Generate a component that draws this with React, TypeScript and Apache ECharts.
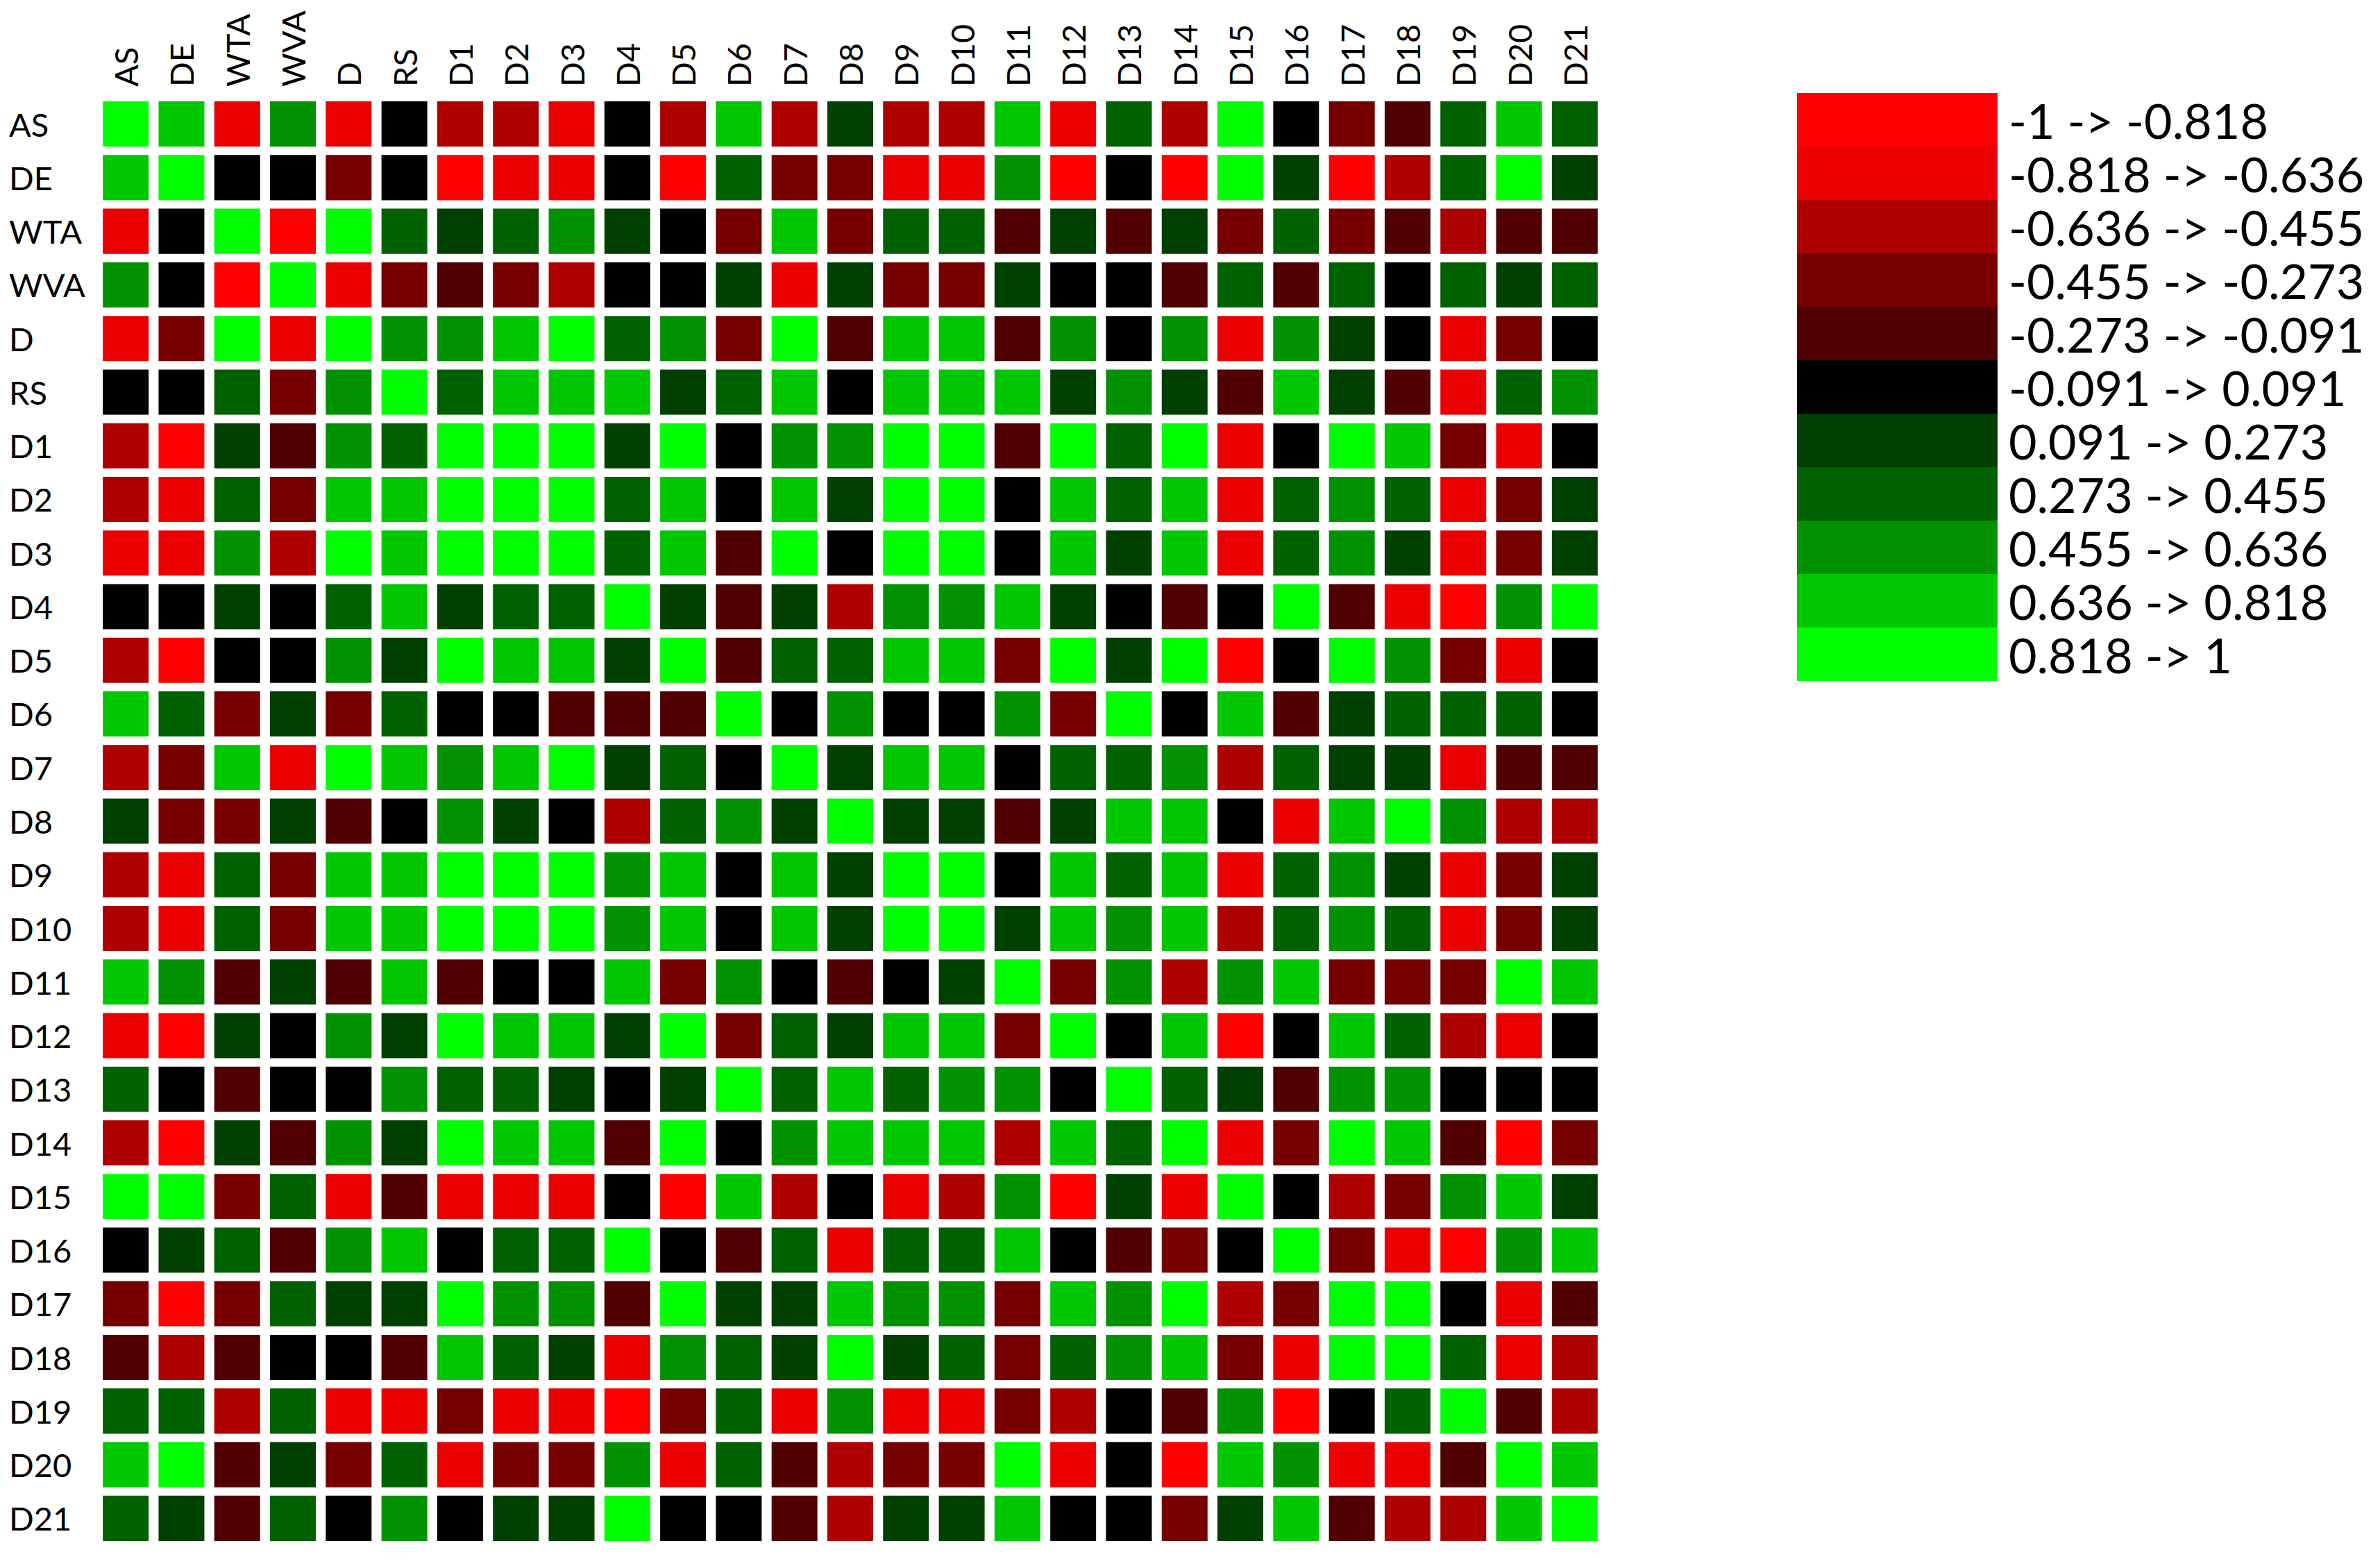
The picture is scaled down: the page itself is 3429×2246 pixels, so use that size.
import React, { useEffect, useRef } from "react";
import * as echarts from "echarts";

const variables = [
  "AS", "DE", "WTA", "WVA", "D", "RS", "D1", "D2", "D3", "D4", "D5", "D6", "D7",
  "D8", "D9", "D10", "D11", "D12", "D13", "D14", "D15", "D16", "D17", "D18", "D19", "D20", "D21",
];

// correlation matrix (rows and columns in the order of `variables`)
const rowAS = [1, 0.73, -0.73, 0.55, -0.73, 0, -0.55, -0.55, -0.73, 0, -0.55, 0.73, -0.55, 0.18, -0.55, -0.55, 0.73, -0.73, 0.36, -0.55, 0.91, 0, -0.36, -0.18, 0.36, 0.73, 0.36];
const rowDE = [0.73, 1, 0, 0, -0.36, 0, -0.91, -0.73, -0.73, 0, -0.91, 0.36, -0.36, -0.36, -0.73, -0.73, 0.55, -0.91, 0, -0.91, 0.91, 0.18, -0.91, -0.55, 0.36, 0.91, 0.18];
const rowWTA = [-0.73, 0, 1, -0.91, 0.91, 0.36, 0.18, 0.36, 0.55, 0.18, 0, -0.36, 0.73, -0.36, 0.36, 0.36, -0.18, 0.18, -0.18, 0.18, -0.36, 0.36, -0.36, -0.18, -0.55, -0.18, -0.18];
const rowWVA = [0.55, 0, -0.91, 1, -0.73, -0.36, -0.18, -0.36, -0.55, 0, 0, 0.18, -0.73, 0.18, -0.36, -0.36, 0.18, 0, 0, -0.18, 0.36, -0.18, 0.36, 0, 0.36, 0.18, 0.36];
const rowD = [-0.73, -0.36, 0.91, -0.73, 1, 0.55, 0.55, 0.73, 0.91, 0.36, 0.55, -0.36, 0.91, -0.18, 0.73, 0.73, -0.18, 0.55, 0, 0.55, -0.73, 0.55, 0.18, 0, -0.73, -0.36, 0];
const rowRS = [0, 0, 0.36, -0.36, 0.55, 1, 0.36, 0.73, 0.73, 0.73, 0.18, 0.36, 0.73, 0, 0.73, 0.73, 0.73, 0.18, 0.55, 0.18, -0.18, 0.73, 0.18, -0.18, -0.73, 0.36, 0.55];
const rowD1 = [-0.55, -0.91, 0.18, -0.18, 0.55, 0.36, 1, 0.91, 0.91, 0.18, 0.91, 0, 0.55, 0.55, 0.91, 0.91, -0.18, 0.91, 0.36, 0.91, -0.73, 0, 0.91, 0.73, -0.36, -0.73, 0];
const rowD2 = [-0.55, -0.73, 0.36, -0.36, 0.73, 0.73, 0.91, 1, 0.91, 0.36, 0.73, 0, 0.73, 0.18, 0.91, 0.91, 0, 0.73, 0.36, 0.73, -0.73, 0.36, 0.55, 0.36, -0.73, -0.36, 0.18];
const rowD3 = [-0.73, -0.73, 0.55, -0.55, 0.91, 0.73, 0.91, 0.91, 1, 0.36, 0.73, -0.18, 0.91, 0, 0.91, 0.91, 0, 0.73, 0.18, 0.73, -0.73, 0.36, 0.55, 0.18, -0.73, -0.36, 0.18];
const rowD4 = [0, 0, 0.18, 0, 0.36, 0.73, 0.18, 0.36, 0.36, 1, 0.18, -0.18, 0.18, -0.55, 0.55, 0.55, 0.73, 0.18, 0, -0.18, 0, 0.91, -0.18, -0.73, -0.91, 0.55, 0.91];
const rowD5 = [-0.55, -0.91, 0, 0, 0.55, 0.18, 0.91, 0.73, 0.73, 0.18, 1, -0.18, 0.36, 0.36, 0.73, 0.73, -0.36, 0.91, 0.18, 0.91, -0.91, 0, 0.91, 0.55, -0.36, -0.73, 0];
const rowD6 = [0.73, 0.36, -0.36, 0.18, -0.36, 0.36, 0, 0, -0.18, -0.18, -0.18, 1, 0, 0.55, 0, 0, 0.55, -0.36, 0.91, 0, 0.73, -0.18, 0.18, 0.36, 0.36, 0.36, 0];
const rowD7 = [-0.55, -0.36, 0.73, -0.73, 0.91, 0.73, 0.55, 0.73, 0.91, 0.18, 0.36, 0, 1, 0.18, 0.73, 0.73, 0, 0.36, 0.36, 0.55, -0.55, 0.36, 0.18, 0.18, -0.73, -0.18, -0.18];
const rowD8 = [0.18, -0.36, -0.36, 0.18, -0.18, 0, 0.55, 0.18, 0, -0.55, 0.36, 0.55, 0.18, 1, 0.18, 0.18, -0.18, 0.18, 0.73, 0.73, 0, -0.73, 0.73, 0.91, 0.55, -0.55, -0.55];
const rowD9 = [-0.55, -0.73, 0.36, -0.36, 0.73, 0.73, 0.91, 0.91, 0.91, 0.55, 0.73, 0, 0.73, 0.18, 1, 0.91, 0, 0.73, 0.36, 0.73, -0.73, 0.36, 0.55, 0.18, -0.73, -0.36, 0.18];
const rowD10 = [-0.55, -0.73, 0.36, -0.36, 0.73, 0.73, 0.91, 0.91, 0.91, 0.55, 0.73, 0, 0.73, 0.18, 0.91, 1, 0.18, 0.73, 0.55, 0.73, -0.55, 0.36, 0.55, 0.36, -0.73, -0.36, 0.18];
const rowD11 = [0.73, 0.55, -0.18, 0.18, -0.18, 0.73, -0.18, 0, 0, 0.73, -0.36, 0.55, 0, -0.18, 0, 0.18, 1, -0.36, 0.55, -0.55, 0.55, 0.73, -0.36, -0.36, -0.36, 0.91, 0.73];
const rowD12 = [-0.73, -0.91, 0.18, 0, 0.55, 0.18, 0.91, 0.73, 0.73, 0.18, 0.91, -0.36, 0.36, 0.18, 0.73, 0.73, -0.36, 1, 0, 0.73, -0.91, 0, 0.73, 0.36, -0.55, -0.73, 0];
const rowD13 = [0.36, 0, -0.18, 0, 0, 0.55, 0.36, 0.36, 0.18, 0, 0.18, 0.91, 0.36, 0.73, 0.36, 0.55, 0.55, 0, 1, 0.36, 0.18, -0.18, 0.55, 0.55, 0, 0, 0];
const rowD14 = [-0.55, -0.91, 0.18, -0.18, 0.55, 0.18, 0.91, 0.73, 0.73, -0.18, 0.91, 0, 0.55, 0.73, 0.73, 0.73, -0.55, 0.73, 0.36, 1, -0.73, -0.36, 0.91, 0.73, -0.18, -0.91, -0.36];
const rowD15 = [0.91, 0.91, -0.36, 0.36, -0.73, -0.18, -0.73, -0.73, -0.73, 0, -0.91, 0.73, -0.55, 0, -0.73, -0.55, 0.55, -0.91, 0.18, -0.73, 1, 0, -0.55, -0.36, 0.55, 0.73, 0.18];
const rowD16 = [0, 0.18, 0.36, -0.18, 0.55, 0.73, 0, 0.36, 0.36, 0.91, 0, -0.18, 0.36, -0.73, 0.36, 0.36, 0.73, 0, -0.18, -0.36, 0, 1, -0.36, -0.73, -0.91, 0.55, 0.73];
const rowD17 = [-0.36, -0.91, -0.36, 0.36, 0.18, 0.18, 0.91, 0.55, 0.55, -0.18, 0.91, 0.18, 0.18, 0.73, 0.55, 0.55, -0.36, 0.73, 0.55, 0.91, -0.55, -0.36, 1, 0.91, 0, -0.73, -0.18];
const rowD18 = [-0.18, -0.55, -0.18, 0, 0, -0.18, 0.73, 0.36, 0.18, -0.73, 0.55, 0.36, 0.18, 0.91, 0.18, 0.36, -0.36, 0.36, 0.55, 0.73, -0.36, -0.73, 0.91, 1, 0.36, -0.73, -0.55];
const rowD19 = [0.36, 0.36, -0.55, 0.36, -0.73, -0.73, -0.36, -0.73, -0.73, -0.91, -0.36, 0.36, -0.73, 0.55, -0.73, -0.73, -0.36, -0.55, 0, -0.18, 0.55, -0.91, 0, 0.36, 1, -0.18, -0.55];
const rowD20 = [0.73, 0.91, -0.18, 0.18, -0.36, 0.36, -0.73, -0.36, -0.36, 0.55, -0.73, 0.36, -0.18, -0.55, -0.36, -0.36, 0.91, -0.73, 0, -0.91, 0.73, 0.55, -0.73, -0.73, -0.18, 1, 0.73];
const rowD21 = [0.36, 0.18, -0.18, 0.36, 0, 0.55, 0, 0.18, 0.18, 0.91, 0, 0, -0.18, -0.55, 0.18, 0.18, 0.73, 0, 0, -0.36, 0.18, 0.73, -0.18, -0.55, -0.55, 0.73, 1];

const correlations = [
  rowAS, rowDE, rowWTA, rowWVA, rowD, rowRS, rowD1, rowD2, rowD3, rowD4, rowD5, rowD6, rowD7,
  rowD8, rowD9, rowD10, rowD11, rowD12, rowD13, rowD14, rowD15, rowD16, rowD17, rowD18, rowD19, rowD20, rowD21,
];

// colour scale bins
const binEdges = [-1, -0.818, -0.636, -0.455, -0.273, -0.091, 0.091, 0.273, 0.455, 0.636, 0.818, 1];
const binLabels = [
  "-1 -> -0.818",
  "-0.818 -> -0.636",
  "-0.636 -> -0.455",
  "-0.455 -> -0.273",
  "-0.273 -> -0.091",
  "-0.091 -> 0.091",
  "0.091 -> 0.273",
  "0.273 -> 0.455",
  "0.455 -> 0.636",
  "0.636 -> 0.818",
  "0.818 -> 1",
];
const binColors = [
  "#FF0000", "#EA0000", "#AF0000", "#760000", "#500000", "#000000",
  "#004000", "#006100", "#009200", "#00C800", "#00FF00",
];

const FONT = "Lato";

export default function App() {
  const ref = useRef<HTMLDivElement>(null);

  useEffect(() => {
    if (!ref.current) return;
    const chart = echarts.init(ref.current, null, { renderer: "svg" });

    const data: number[][] = [];
    correlations.forEach((row, i) => {
      row.forEach((v, j) => {
        data.push([j, i, v]);
      });
    });

    const pieces = binLabels.map((label, k) => {
      const p: any = { gte: binEdges[k], color: binColors[k], label };
      if (k === binLabels.length - 1) p.lte = binEdges[k + 1];
      else p.lt = binEdges[k + 1];
      return p;
    });

    chart.setOption({
      animation: false,
      backgroundColor: "#ffffff",
      grid: { left: 141, top: 140, width: 2168, height: 2086, containLabel: false },
      xAxis: {
        type: "category",
        position: "top",
        data: variables,
        axisLine: { show: false },
        axisTick: { show: false },
        splitLine: { show: false },
        axisLabel: {
          interval: 0,
          rotate: -90,
          margin: 15,
          fontSize: 47,
          fontFamily: FONT,
          color: "#000000",
        },
      },
      yAxis: {
        type: "category",
        inverse: true,
        data: variables,
        axisLine: { show: false },
        axisTick: { show: false },
        splitLine: { show: false },
        axisLabel: {
          interval: 0,
          align: "left",
          margin: 128,
          fontSize: 47,
          fontFamily: FONT,
          color: "#000000",
        },
      },
      visualMap: {
        type: "piecewise",
        seriesIndex: 0,
        dimension: 2,
        pieces,
        orient: "vertical",
        inverse: true,
        align: "left",
        left: 2589,
        top: 134,
        padding: 0,
        itemWidth: 289,
        itemHeight: 77,
        itemGap: 0,
        itemSymbol: "rect",
        textGap: 16,
        selectedMode: false,
        hoverLink: false,
        textStyle: { fontSize: 70, fontFamily: FONT, color: "#000000" },
      },
      series: [
        {
          type: "custom",
          data,
          dimensions: ["x", "y", "value"],
          encode: { x: 0, y: 1 },
          renderItem: (params: any, api: any) => {
            const c = api.coord([api.value(0), api.value(1)]);
            const s = api.size([1, 1]);
            const w = s[0] * 0.822;
            const h = s[1] * 0.842;
            return {
              type: "rect",
              shape: { x: c[0] - w / 2, y: c[1] - h / 2, width: w, height: h },
              style: { fill: api.visual("color") },
            };
          },
        },
      ],
    });

    return () => chart.dispose();
  }, []);

  return (
    <div
      ref={ref}
      style={{ position: "absolute", left: 0, top: 0, width: 3429, height: 2246 }}
    />
  );
}
